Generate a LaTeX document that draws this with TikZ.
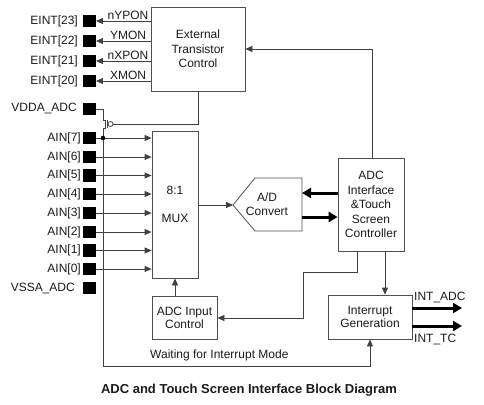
\documentclass[tikz,border=0pt]{standalone}
\usepackage{fontspec}
\setmainfont{Liberation Sans}
\usetikzlibrary{arrows.meta}
\definecolor{linec}{HTML}{404040}
\definecolor{boxc}{HTML}{505050}
\definecolor{txtc}{HTML}{1A1A1A}
\begin{document}
\begin{tikzpicture}[x=1pt,y=-1pt,
  every node/.style={text=txtc},
  base/.style={font=\fontsize{12}{14.5}\selectfont},
  box/.style={base,draw=boxc,line width=0.8pt,inner sep=0pt,align=center},
  pad/.style={fill=black,minimum size=12.5pt,inner sep=0pt},
  padlbl/.style={base,anchor=east,inner sep=0pt},
  wire/.style={draw=linec,line width=0.8pt},
  arr/.style={wire,-{Triangle[length=7pt,width=6pt]}},
  bigarr/.style={draw=black,line width=3pt,-{Triangle[length=9pt,width=10pt]}},
  sig/.style={base,inner sep=0pt}]
\useasboundingbox (0,0) rectangle (484,404);

% boxes
\node[box,minimum width=94pt,minimum height=84pt] (ext) at (198,49) {External\\Transistor\\Control};
\node[box,minimum width=46pt,minimum height=147pt] (mux) at (175,204.5) {8:1\\[13.5pt]MUX};
\node[box,minimum width=66pt,minimum height=93pt] (adc) at (371,204.5) {ADC\\Interface\\\&Touch\\Screen\\Controller};
\node[box,minimum width=65pt,minimum height=43pt,font=\fontsize{12}{13}\selectfont] (ctrl) at (184.5,317.5) {ADC Input\\Control};
\node[box,minimum width=84pt,minimum height=44pt,font=\fontsize{12}{13}\selectfont] (intr) at (370,317) {Interrupt\\Generation};

% A/D convert pentagon
\coordinate (adL) at (233,205);
\coordinate (adR1) at (302,193);
\coordinate (adR2) at (302,217);
\draw[draw=boxc,line width=0.8pt] (adL) -- (255,178) -- (302,178) -- (302,231) -- (255,231) -- cycle;
\node[base,align=center,inner sep=0pt] (adtxt) at (267,204) {A/D\\Convert};

% pads
\foreach \n/\y in {e23/21,e22/41,e21/61,e20/81,vdda/109,a7/138,a6/157,a5/175.5,a4/194,a3/213,a2/232,a1/250.5,a0/269,vssa/288}
  \node[pad] (\n) at (89.5,\y) {};

% pad labels
\node[padlbl] (le23) at (78,21) {EINT[23]};
\node[padlbl] (le22) at (78,41) {EINT[22]};
\node[padlbl] (le21) at (78,61) {EINT[21]};
\node[padlbl] (le20) at (78,81) {EINT[20]};
\node[padlbl] (lvdda) at (77,109) {VDDA\_ADC};
\foreach \n/\t/\y in {a7/7/138,a6/6/157,a5/5/175.5,a4/4/194,a3/3/213,a2/2/232,a1/1/250.5,a0/0/269}
  \node[padlbl] (l\n) at (81,\y) {AIN[\t]};
\node[padlbl] (lvssa) at (75,288) {VSSA\_ADC};

% EINT arrows with signal names
\foreach \n/\t in {e23/nYPON,e22/YMON,e21/nXPON,e20/XMON}{
  \draw[arr] (ext.west |- \n) -- (\n.east);
  \node[sig,anchor=south] at ([yshift=1.2pt]128,0 |- \n) {\t};
}

% AIN arrows
\foreach \n in {a7,a6,a5,a4,a3,a2,a1,a0}
  \draw[arr] (\n.east) -- (mux.west |- \n);

% switch transistor
\node[circle,draw=linec,line width=0.8pt,minimum size=5pt,inner sep=0pt] (bub) at (110.5,124) {};
\coordinate (sw1) at (103,120);
\coordinate (sw2) at (103,128);
\draw[wire] (vdda.east) -| (sw1) -- (105,120) -- (105,128) -- (sw2);
\draw[wire] (107.5,120) -- (107.5,128);
\draw[wire] (ext.south) |- (bub.east);
\coordinate (bl) at (103,366);
\draw[arr] (sw2) -- (bl) -| (intr.south);
\fill[black] (103,138) circle (2.3pt);
\node[base,anchor=west,inner sep=0pt] (wait) at (150,355) {Waiting for Interrupt Mode};

% MUX to A/D
\draw[arr] (mux.east |- adL) -- (adL);
% thick arrows A/D <-> ADC
\draw[bigarr] (adc.west |- adR1) -- (adR1);
\draw[bigarr] (adR2) -- (adc.west |- adR2);

% ADC to External
\coordinate (up) at (372,49);
\draw[arr] (adc.north -| up) -- (up) -- (ext.east);
% ADC to interrupt
\coordinate (dn) at (385,0);
\draw[arr] (adc.south -| dn) -- (intr.north -| dn);
% ADC to ADC input control
\coordinate (k1) at (357,272);
\coordinate (k2) at (303,272);
\coordinate (k3) at (303,318);
\draw[arr] (adc.south -| k1) -- (k1) -- (k2) -- (k3) -- (ctrl.east |- k3);
% ctrl to mux
\draw[arr] (ctrl.north -| mux.south) -- (mux.south);

% outputs
\coordinate (o1) at (462,308);
\coordinate (o2) at (462,326);
\draw[bigarr] (intr.east |- o1) -- (o1);
\draw[bigarr] (intr.east |- o2) -- (o2);
\node[sig,anchor=west] (intadc) at (414,297) {INT\_ADC};
\node[sig,anchor=west] (inttc) at (414,339) {INT\_TC};

% title
\node[font=\bfseries\fontsize{13}{15}\selectfont,inner sep=0pt] (title) at (249,390) {ADC and Touch Screen Interface Block Diagram};
\end{tikzpicture}
\end{document}
